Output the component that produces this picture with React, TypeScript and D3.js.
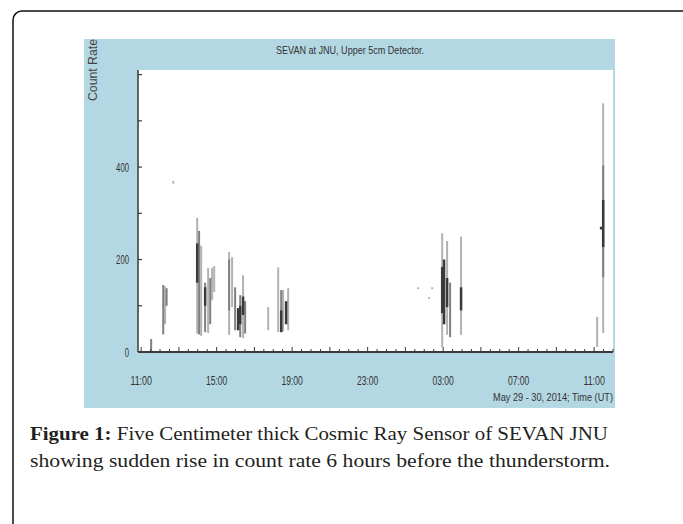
import React from "react";
import * as d3 from "d3";

// ---- data ----
// spikes: [hours after 11:00 UT on May 29, low count, high count]
const lightSpikes: [number, number, number][] = [
  [1.27, 60, 142], [2.97, 40, 290], [3.18, 35, 230], [3.55, 41, 182], [3.76, 112, 182],
  [3.87, 130, 186], [4.66, 37, 216], [4.82, 97, 205], [5.40, 30, 166], [6.73, 47, 97],
  [7.26, 43, 183], [7.52, 45, 134], [7.79, 47, 138], [14.68, 136, 140], [15.26, 115, 119],
  [15.42, 136, 140], [15.95, 10, 257], [16.21, 37, 240], [16.95, 37, 250], [24.16, 11, 76],
  [24.48, 41, 538], [1.70, 364, 370],
];
const midSpikes: [number, number, number][] = [
  [0.53, 2, 28], [1.17, 38, 145], [1.35, 100, 138], [3.07, 38, 262], [3.39, 43, 150],
  [3.66, 60, 160], [4.66, 90, 200], [4.98, 47, 140], [5.25, 32, 123], [5.51, 40, 110],
  [7.42, 43, 134], [16.37, 32, 150], [24.48, 162, 404],
];
const darkSpikes: [number, number, number][] = [
  [2.97, 150, 235], [3.39, 100, 140], [5.14, 47, 95], [5.25, 60, 100],
  [5.40, 80, 120], [7.42, 43, 90], [7.68, 60, 110], [15.95, 84, 184], [16.05, 60, 200],
  [16.21, 97, 160], [16.95, 90, 140], [24.37, 265, 271], [24.48, 227, 329],
];
const yTickValues = [0, 100, 200, 300, 400, 500, 600];
const yTickLabels = [0, 200, 400];
const xLabelHours = [0, 4, 8, 12, 16, 20, 24];
const titleText = "SEVAN at JNU, Upper 5cm Detector.";
const yAxisTitle = "Count Rate";
const xAxisTitle = "May 29 - 30, 2014; Time (UT)";
const captionBold = "Figure 1:";
const captionLine1 = " Five Centimeter thick Cosmic Ray Sensor of SEVAN JNU";
const captionLine2 = "showing sudden rise in count rate 6 hours before the thunderstorm.";

const BASE = new Date(2014, 4, 29, 11, 0);
const at = (h: number) => new Date(BASE.getTime() + h * 3600e3);

export default function App() {
  const W = 683, H = 524;
  const left = 138, right = 613, top = 70, bottom = 352;
  const x = d3.scaleTime().domain([at(-10 / 60), at(25)]).range([left, right]);
  const y = d3.scaleLinear().domain([0, 610]).range([bottom, top]);
  const fmt = d3.timeFormat("%H:%M");
  const narrow = "'Liberation Sans Narrow', 'Liberation Sans', Arial, sans-serif";
  const minorTicks = d3.range(0, 25.01, 0.5);

  const drawSpikes = (arr: [number, number, number][], color: string, w: number, key: string) =>
    arr.map((d, i) => (
      <line key={key + i} x1={x(at(d[0]))} x2={x(at(d[0]))} y1={y(d[1])} y2={y(d[2])}
        stroke={color} strokeWidth={w} />
    ));

  return (
    <svg width={W} height={H} style={{ position: "absolute", left: 0, top: 0 }}>
      <rect x={0} y={0} width={W} height={H} fill="#fff" />
      <rect x={13} y={11} width={720} height={560} rx={9} fill="none" stroke="#111" strokeWidth={1.5} />
      {/* blue panel */}
      <rect x={84} y={39} width={531} height={369} fill="#b3d7e3" />
      <rect x={left} y={top} width={right - left} height={bottom - top} fill="#fff" />
      <text x={350} y={54} textAnchor="middle" fontFamily={narrow} fontSize={10.5} fill="#333"
        textLength={148} lengthAdjust="spacingAndGlyphs">{titleText}</text>
      <text transform="translate(97,70) rotate(-90)" textAnchor="middle" fontFamily="'Liberation Sans', Arial, sans-serif"
        fontSize={12} fill="#444" textLength={62} lengthAdjust="spacingAndGlyphs">{yAxisTitle}</text>
      {/* spikes */}
      <g>
        {drawSpikes(lightSpikes, "#b2b2b2", 2, "l")}
        {drawSpikes(midSpikes, "#808080", 2, "m")}
        {drawSpikes(darkSpikes, "#3a3a3a", 2.5, "d")}
      </g>
      {/* axes */}
      <line x1={left} x2={left} y1={top} y2={bottom} stroke="#3a3a3a" strokeWidth={1.5} />
      <line x1={left} x2={right} y1={bottom} y2={bottom} stroke="#3a3a3a" strokeWidth={2} />
      {yTickValues.map((v) => (
        <line key={"yt" + v} x1={left} x2={left + 4} y1={y(v)} y2={y(v)} stroke="#3a3a3a" strokeWidth={1.2} />
      ))}
      {yTickLabels.map((v) => (
        <text key={"yl" + v} x={129} y={y(v) + 4.5} textAnchor="end" fontFamily={narrow} fontSize={12.5} fill="#333"
          textLength={String(v).length * 4.3} lengthAdjust="spacingAndGlyphs">{v}</text>
      ))}
      {minorTicks.map((h) => {
        const big = Math.abs(h % 2) < 1e-6;
        return (
          <line key={"xt" + h} x1={x(at(h))} x2={x(at(h))} y1={bottom} y2={bottom - (big ? 5 : 3)}
            stroke="#3a3a3a" strokeWidth={1} />
        );
      })}
      {xLabelHours.map((h) => (
        <text key={"xl" + h} x={x(at(h))} y={385} textAnchor="middle" fontFamily={narrow} fontSize={12} fill="#333"
          textLength={21.5} lengthAdjust="spacingAndGlyphs">
          {fmt(at(h))}
        </text>
      ))}
      <text x={613} y={401} textAnchor="end" fontFamily={narrow} fontSize={11} fill="#333"
        textLength={120} lengthAdjust="spacingAndGlyphs">{xAxisTitle}</text>
      {/* caption */}
      <text x={30} y={440} fontFamily="'Liberation Serif', 'Times New Roman', serif" fontSize={18.5} fill="#231f20"
        textLength={578} lengthAdjust="spacingAndGlyphs">
        <tspan fontWeight="bold">{captionBold}</tspan>
        <tspan>{captionLine1}</tspan>
      </text>
      <text x={30} y={467} fontFamily="'Liberation Serif', 'Times New Roman', serif" fontSize={18.5} fill="#231f20"
        textLength={580} lengthAdjust="spacingAndGlyphs">{captionLine2}</text>
    </svg>
  );
}
